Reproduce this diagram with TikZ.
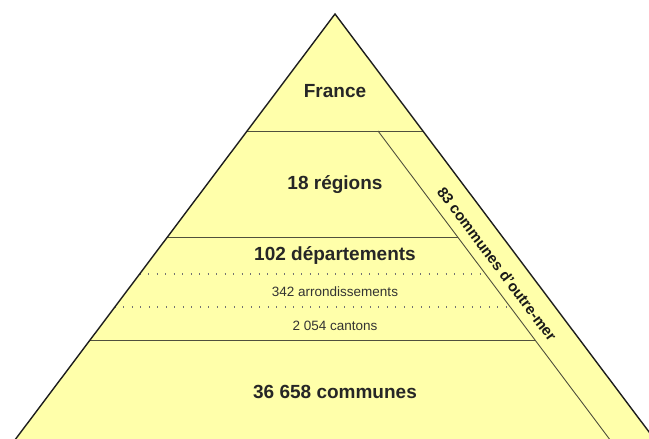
\documentclass[tikz,border=0pt]{standalone}
\usepackage{fontspec}
\setmainfont{Liberation Sans}
\definecolor{pyrfill}{RGB}{255,255,170}
\definecolor{pyredge}{RGB}{30,30,30}
\definecolor{pyrline}{RGB}{80,80,60}
\begin{document}
\begin{tikzpicture}[x=1pt,y=-1pt,
  big/.style={font=\fontsize{19}{22}\selectfont\bfseries, text=black!85},
  small/.style={font=\fontsize{13.5}{16}\selectfont, text=black!80},
  side/.style={font=\fontsize{15}{18}\selectfont\bfseries, text=black!90},
  edgeline/.style={line width=1.4pt, draw=pyredge},
  sepline/.style={line width=0.9pt, draw=pyrline},
  dotline/.style={line width=1.1pt, draw=black!55, dash pattern=on 1.1pt off 7.4pt}]
\useasboundingbox (0,0) rectangle (649,439);
\clip (0,0) rectangle (649,439);
\coordinate (apex) at (335,14);
\coordinate (bl) at (7.4,450);
\coordinate (br) at (662.6,450);
\fill[pyrfill] (apex) -- (bl) -- (br) -- cycle;
% separators
\coordinate (a1) at (247.1,131); \coordinate (a2) at (422.9,131);
\coordinate (i0) at (378,131); \coordinate (i1) at (617.7,450);
\coordinate (b1) at (167.4,237); \coordinate (b2) at (457.6,237);
\coordinate (c1) at (139.6,274); \coordinate (c2) at (485.4,274);
\coordinate (d1) at (114.8,307); \coordinate (d2) at (510.2,307);
\coordinate (e1) at (90,340); \coordinate (e2) at (535,340);
\draw[sepline] (a1) -- (a2);
\draw[sepline] (i0) -- (i1);
\draw[sepline] (b1) -- (b2);
\draw[dotline] (c1) -- (c2);
\draw[dotline] (d1) -- (d2);
\draw[sepline] (e1) -- (e2);
\draw[edgeline, line join=miter] (bl) -- (apex) -- (br);
% labels
\node[big] (france) at (335,91) {France};
\node[big] (regions) at (335,185) {18 régions};
\node[big] (deps) at (335,256) {102 départements};
\node[small] (arr) at (335,292) {342 arrondissements};
\node[small] (cant) at (335,326) {2 054 cantons};
\node[big] (comm) at (335,392) {36 658 communes};
\node[side, rotate=-53.1, inner sep=0pt] (om) at (497,264) {83 communes d'outre-mer};
\end{tikzpicture}
\end{document}
